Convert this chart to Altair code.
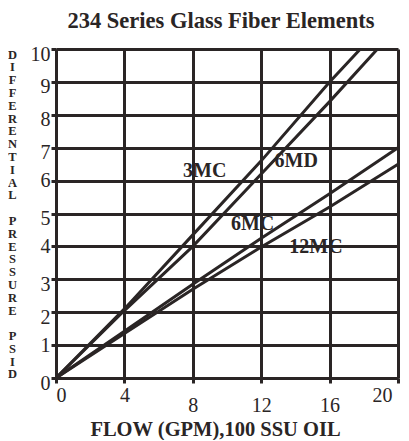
import altair as alt
import pandas as pd

title_text = "234 Series Glass Fiber Elements"
x_title = "FLOW (GPM),100 SSU OIL"
y_title_words = ["DIFFERENTIAL", "PRESSURE", "PSID"]

series_names = ["3MC", "6MD", "6MC", "12MC"]
flow_3mc = [0, 4, 8, 12, 16, 17.8]
dp_3mc = [0, 2.1, 4.35, 6.6, 9.0, 10]
flow_6md = [0, 4, 8, 12, 16, 18.8]
dp_6md = [0, 2.05, 4.0, 6.2, 8.4, 10]
flow_6mc = [0, 4, 8, 12, 16, 20]
dp_6mc = [0, 1.42, 2.85, 4.25, 5.6, 7.0]
flow_12mc = [0, 4, 8, 12, 16, 20]
dp_12mc = [0, 1.35, 2.7, 3.98, 5.2, 6.5]

label_x = [8.7, 14.05, 11.5, 15.2]
label_y = [6.28, 6.61, 4.69, 3.98]

x_ticks = [0, 4, 8, 12, 16, 20]
y_ticks = [0, 1, 2, 3, 4, 5, 6, 7, 8, 9, 10]

INK = "#2a2525"
SERIF = "Liberation Serif"

rows = []
for name, xs, ys in zip(series_names,
                        [flow_3mc, flow_6md, flow_6mc, flow_12mc],
                        [dp_3mc, dp_6md, dp_6mc, dp_12mc]):
    for xv, yv in zip(xs, ys):
        rows.append({"series": name, "flow": xv, "dp": yv})
line_df = pd.DataFrame(rows)
label_df = pd.DataFrame({"series": series_names, "flow": label_x, "dp": label_y})

# stacked vertical letters for the y title (zero-width char keeps the blank rows)
y_title_lines = []
for i, w in enumerate(y_title_words):
    if i > 0:
        y_title_lines.append("\u200b")
    y_title_lines.extend(list(w))

x_enc = alt.X(
    "flow:Q",
    scale=alt.Scale(domain=[0, 20], nice=False),
    axis=alt.Axis(
        values=x_ticks, title=x_title, grid=True,
        gridColor=INK, gridWidth=3, gridOpacity=1,
        domainColor=INK, domainWidth=3,
        tickColor=INK, tickWidth=3, tickSize=5,
        labelFont=SERIF, labelFontSize=20, labelColor=INK,
        labelPadding={"condition": {"test": "datum.value >= 8 && datum.value <= 16", "value": 12}, "value": 2},
        labelOffset={"condition": {"test": "datum.value == 20", "value": -6}, "value": 0},
        labelOverlap=False,
        titleFont=SERIF, titleFontSize=20.5, titleFontWeight="bold", titleColor=INK,
        titleX=159, titleY=57, titleAlign="center", titleBaseline="alphabetic",
    ),
)
y_enc = alt.Y(
    "dp:Q",
    scale=alt.Scale(domain=[0, 10], nice=False),
    axis=alt.Axis(
        values=y_ticks, title=y_title_lines, grid=True,
        gridColor=INK, gridWidth=3, gridOpacity=1,
        domainColor=INK, domainWidth=3,
        tickColor=INK, tickWidth=3, tickSize=5,
        labelFont=SERIF, labelFontSize=20, labelColor=INK,
        labelPadding=1, labelBaseline="middle", labelOverlap=False,
        labelOffset={"condition": {"test": "datum.value == 1 || datum.value == 4 || datum.value == 6", "value": 0}, "value": 5},
        titleFont=SERIF, titleFontSize=12.5, titleFontWeight="bold", titleColor=INK,
        titleAngle=0, titleX=-44, titleY=-1, titleAlign="center", titleBaseline="top",
        titleLineHeight=12.8,
    ),
)

lines = alt.Chart(line_df).mark_line(color=INK, strokeWidth=3).encode(
    x=x_enc, y=y_enc, detail="series:N"
)
labels = alt.Chart(label_df).mark_text(
    font=SERIF, fontWeight="bold", fontSize=20, color=INK, baseline="middle", align="center"
).encode(x=x_enc, y=y_enc, text="series:N")

chart = alt.layer(lines, labels).properties(
    width=342, height=329,
    title=alt.TitleParams(title_text, font=SERIF, fontSize=22.5, fontWeight="bold", color=INK,
                          anchor="middle", dx=-6, offset=11, baseline="top"),
    autosize=alt.AutoSizeParams(type="none"),
    padding={"left": 48, "top": 41, "right": 3, "bottom": 62},
).configure_view(stroke=INK, strokeWidth=3).configure(background="white")

chart.save("out.html", embed_options={"renderer": "svg", "actions": False})
